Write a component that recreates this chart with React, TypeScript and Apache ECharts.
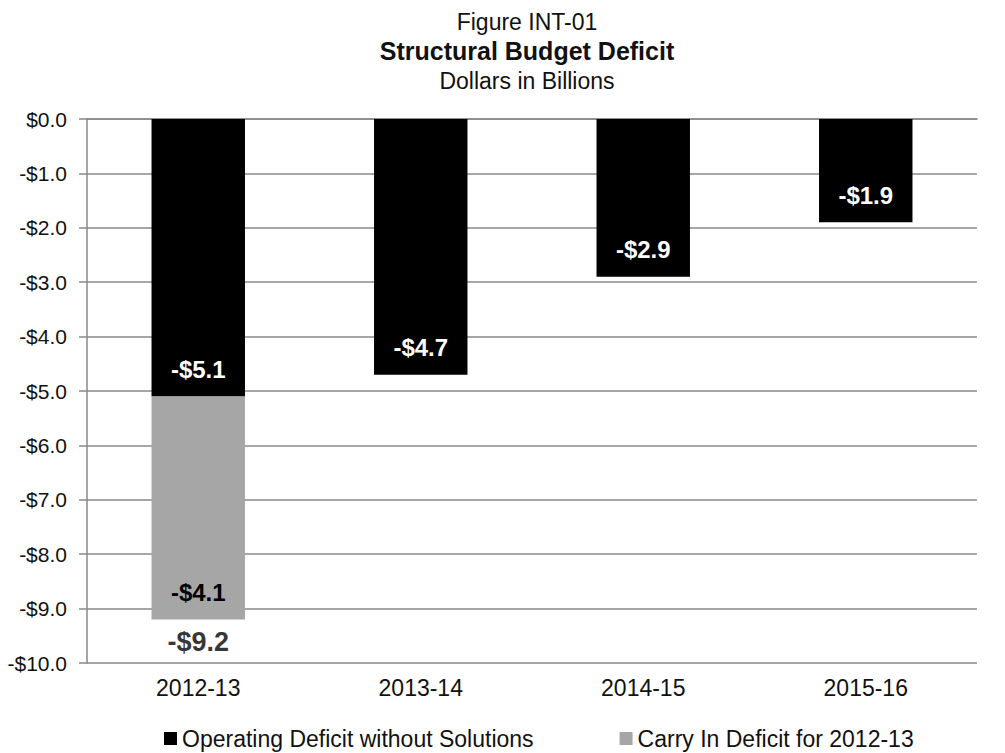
import React, { useEffect, useRef } from "react";
import * as echarts from "echarts";

const categories = ["2012-13", "2013-14", "2014-15", "2015-16"];
const operatingDeficit = [-5.1, -4.7, -2.9, -1.9];
const carryInDeficit = [-4.1, null, null, null];
const totalDeficit = [-9.2, null, null, null];
const seriesNames = ["Operating Deficit without Solutions", "Carry In Deficit for 2012-13"];
const titleLines = ["Figure INT-01", "Structural Budget Deficit", "Dollars in Billions"];

const fmt = (v: number) => (v < 0 ? "-$" : "$") + Math.abs(v).toFixed(1);

export default function App() {
  const ref = useRef<HTMLDivElement>(null);
  useEffect(() => {
    const chart = echarts.init(ref.current!, null, { renderer: "svg" });
    const font = "Liberation Sans, Arial, sans-serif";
    const titleBase = { left: 527, textAlign: "center", padding: 0 };
    chart.setOption({
      animation: false,
      textStyle: { fontFamily: font },
      title: [
        { ...titleBase, top: 10, text: titleLines[0], textStyle: { fontSize: 23, fontWeight: "normal", color: "#111", fontFamily: font } },
        { ...titleBase, top: 38, text: titleLines[1], textStyle: { fontSize: 25, fontWeight: "bold", color: "#111", fontFamily: font } },
        { ...titleBase, top: 69, text: titleLines[2], textStyle: { fontSize: 23, fontWeight: "normal", color: "#111", fontFamily: font } },
      ],
      grid: { left: 87, right: 28, top: 119, bottom: 90, containLabel: false },
      legend: {
        data: seriesNames,
        left: 159,
        top: 722,
        padding: 5,
        icon: "rect",
        itemWidth: 13,
        itemHeight: 13,
        itemGap: 86,
        textStyle: { fontSize: 23, fontFamily: font, color: "#111" },
      },
      xAxis: {
        type: "category",
        data: categories,
        axisLine: { show: true, lineStyle: { color: "#888", width: 1.5 } },
        axisTick: { show: false },
        axisLabel: { fontSize: 23, color: "#111", margin: 13, fontFamily: font },
      },
      yAxis: {
        type: "value",
        min: -10,
        max: 0,
        interval: 1,
        axisLine: { show: true, lineStyle: { color: "#888", width: 1.5 } },
        axisTick: { show: true, length: 8, lineStyle: { color: "#888", width: 1.5 } },
        splitLine: { show: true, lineStyle: { color: "#888", width: 1.5 } },
        axisLabel: { fontSize: 21, color: "#111", margin: 20, fontFamily: font, formatter: fmt },
      },
      series: [
        {
          name: seriesNames[0],
          type: "bar",
          stack: "total",
          barWidth: "42%",
          data: operatingDeficit,
          itemStyle: { color: "#000" },
          label: {
            show: true,
            position: "insideBottom",
            distance: 15,
            color: "#fff",
            fontSize: 24,
            fontWeight: "bold",
            fontFamily: font,
            formatter: (p: any) => fmt(p.value),
          },
        },
        {
          name: seriesNames[1],
          type: "bar",
          stack: "total",
          data: carryInDeficit,
          itemStyle: { color: "#a6a6a6" },
          label: {
            show: true,
            position: "insideBottom",
            distance: 15,
            color: "#000",
            fontSize: 24,
            fontWeight: "bold",
            fontFamily: font,
            formatter: (p: any) => fmt(p.value),
          },
        },
        {
          name: "Total",
          type: "scatter",
          data: totalDeficit,
          symbolSize: 0,
          silent: true,
          label: {
            show: true,
            position: "bottom",
            distance: 9,
            color: "#000",
            fontSize: 27,
            fontWeight: "bold",
            fontFamily: font,
            formatter: (p: any) => fmt(p.value),
          },
        },
      ],
    });
    return () => chart.dispose();
  }, []);
  return <div ref={ref} style={{ width: 1005, height: 753, position: "absolute", left: 0, top: 0 }} />;
}
